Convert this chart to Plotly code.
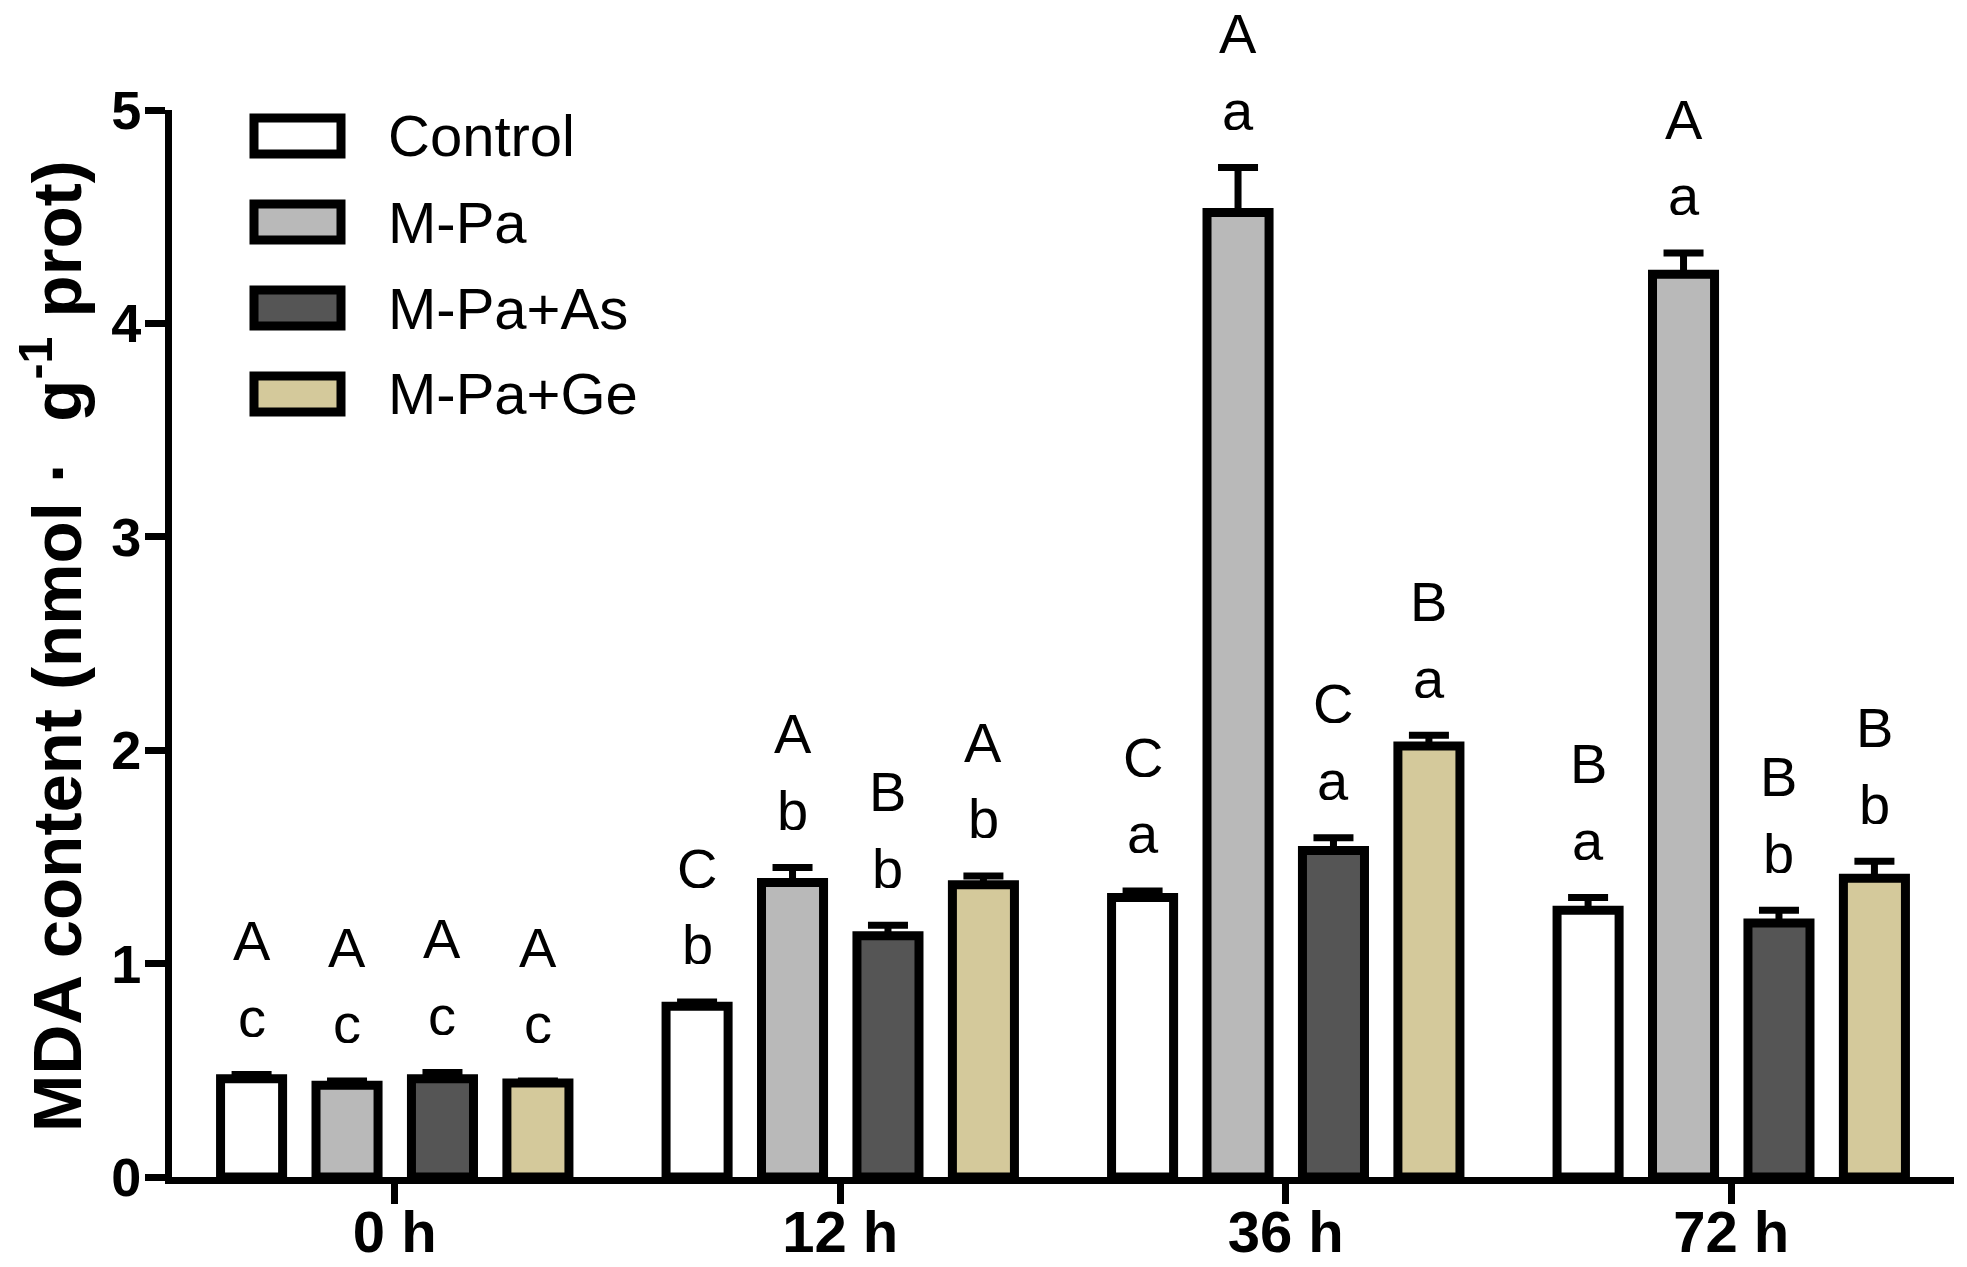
import plotly.graph_objects as go

# time points and treatments
times = ["0 h", "12 h", "36 h", "72 h"]
groups = ["Control", "M-Pa", "M-Pa+As", "M-Pa+Ge"]

# MDA content (nmol/g prot), mean and SE
control = [0.46, 0.80, 1.31, 1.25]
mpa = [0.43, 1.38, 4.52, 4.23]
mpa_as = [0.46, 1.13, 1.53, 1.19]
mpa_ge = [0.44, 1.37, 2.02, 1.40]

control_err = [0.02, 0.02, 0.03, 0.06]
mpa_err = [0.02, 0.07, 0.21, 0.10]
mpa_as_err = [0.03, 0.05, 0.06, 0.06]
mpa_ge_err = [0.01, 0.04, 0.05, 0.08]

# significance letters (upper: between groups, lower: across time)
control_upper = ["A", "C", "C", "B"]
control_lower = ["c", "b", "a", "a"]
mpa_upper = ["A", "A", "A", "A"]
mpa_lower = ["c", "b", "a", "a"]
mpa_as_upper = ["A", "B", "C", "B"]
mpa_as_lower = ["c", "b", "a", "b"]
mpa_ge_upper = ["A", "A", "B", "B"]
mpa_ge_lower = ["c", "b", "a", "b"]

colors = ["#ffffff", "#b9b9b9", "#555555", "#d4c99b"]

means = [control, mpa, mpa_as, mpa_ge]
errs = [control_err, mpa_err, mpa_as_err, mpa_ge_err]
uppers = [control_upper, mpa_upper, mpa_as_upper, mpa_ge_upper]
lowers = [control_lower, mpa_lower, mpa_as_lower, mpa_ge_lower]

# page body has an 8px margin, so the figure is a bit smaller than the window
OFF = 8
W, H = 1959, 1259
ML, MR, MT, MB = 164, 13, 102, 90
pw, ph = W - ML - MR, H - MT - MB
YMAX = 5
BARGAP = 0.143
GROUPGAP = 0.35
FONT = "Liberation Sans, Arial, sans-serif"


def px(x):  # window pixel -> paper x
    return (x - OFF - ML) / pw


def py(y):  # window pixel -> paper y
    return 1 - (y - OFF - MT) / ph


fig = go.Figure()
for name, y, e, c in zip(groups, means, errs, colors):
    fig.add_trace(go.Bar(
        name=name, x=times, y=y,
        marker=dict(color=c, line=dict(color="black", width=9)),
        error_y=dict(type="data", array=e, arrayminus=[0] * len(e), symmetric=False,
                     color="black", thickness=7, width=20),
        showlegend=False,
    ))

# letters above each bar (paper y so they may go past the axis top)
slot = (1 - BARGAP) / len(groups)
annotations = []
for gi in range(len(groups)):
    off = (gi - (len(groups) - 1) / 2) * slot
    for ti in range(len(times)):
        top = means[gi][ti] + errs[gi][ti]
        annotations.append(dict(x=ti + off, y=(top + 0.27) / YMAX, xref="x", yref="paper",
                                text=lowers[gi][ti], showarrow=False, yanchor="middle",
                                height=40, valign="middle",
                                font=dict(family=FONT, size=56, color="black")))
        annotations.append(dict(x=ti + off, y=(top + 0.63) / YMAX, xref="x", yref="paper",
                                text=uppers[gi][ti], showarrow=False, yanchor="middle",
                                height=40, valign="middle",
                                font=dict(family=FONT, size=56, color="black")))

# hand-made legend with big boxes
shapes = []
for i, (name, c) in enumerate(zip(groups, colors)):
    yc = 136 + i * 86
    shapes.append(dict(type="rect", xref="paper", yref="paper",
                       x0=px(254), x1=px(341), y0=py(yc + 18), y1=py(yc - 18),
                       fillcolor=c, line=dict(color="black", width=9)))
    annotations.append(dict(x=px(386), y=py(yc), xref="paper", yref="paper",
                            text=name, showarrow=False, xanchor="left", yanchor="middle",
                            font=dict(family=FONT, size=58, color="black")))

# y axis title
annotations.append(dict(x=px(52), y=py(646), xref="paper", yref="paper",
                        text="MDA content (nmol \u00b7  g<sup>-1</sup> prot)", textangle=-90,
                        showarrow=False, xanchor="center", yanchor="middle",
                        font=dict(family=FONT, size=69, color="black", weight="bold")))

fig.update_layout(
    width=W, height=H,
    margin=dict(l=ML, r=MR, t=MT, b=MB),
    plot_bgcolor="white", paper_bgcolor="white",
    barmode="group", bargap=BARGAP, bargroupgap=GROUPGAP,
    annotations=annotations, shapes=shapes,
    xaxis=dict(range=[-0.5, 3.5], showline=True, linecolor="black", linewidth=7,
               ticks="outside", ticklen=20, tickwidth=7, tickcolor="black",
               ticklabelstandoff=-22,
               tickfont=dict(family=FONT, size=58, color="black", weight="bold"),
               showgrid=False, zeroline=False, automargin=False),
    yaxis=dict(range=[0, YMAX], tickvals=[0, 1, 2, 3, 4, 5], showline=True, linecolor="black",
               linewidth=7, ticks="outside", ticklen=20, tickwidth=7, tickcolor="black",
               ticklabelstandoff=-7,
               tickfont=dict(family=FONT, size=54, color="black", weight="bold"),
               showgrid=False, zeroline=False, automargin=False),
)

fig.write_html("out.html")
